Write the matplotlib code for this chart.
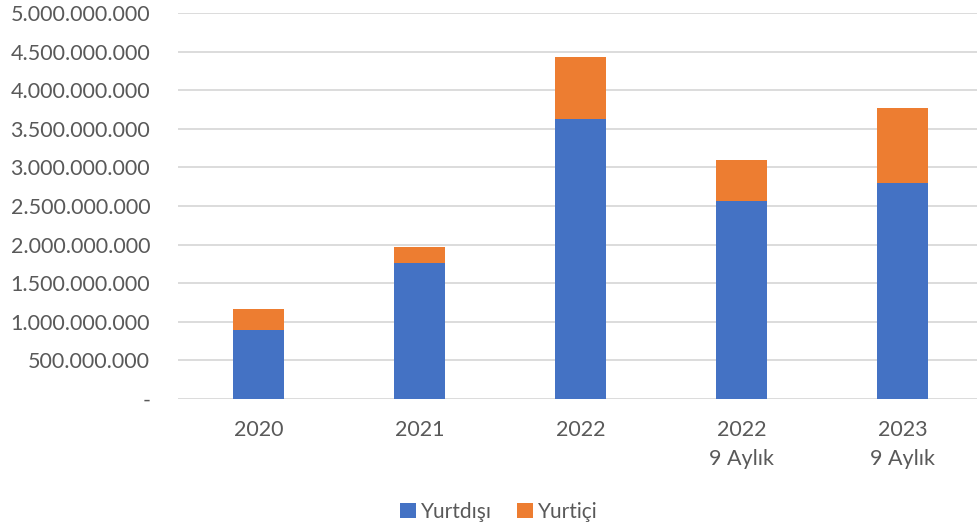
import matplotlib
matplotlib.use("Agg")
import matplotlib.pyplot as plt
from matplotlib.ticker import FuncFormatter

# values
categories = ["2020", "2021", "2022", "2022\n9 Aylık", "2023\n9 Aylık"]
yurtdisi = [893e6, 1759e6, 3622e6, 2570e6, 2803e6]
yurtici = [276e6, 216e6, 811e6, 530e6, 967e6]

blue = "#4472C4"
orange = "#ED7D31"
grey = "#595959"

plt.rcParams['font.family'] = ['Lato', 'DejaVu Sans']

fig = plt.figure(figsize=(9.78, 5.29), dpi=100)
ax = fig.add_axes([178/978, 130/529, 805/978, 386/529])

x = range(len(categories))
ax.bar(x, yurtdisi, width=0.32, color=blue, label="Yurtdışı", zorder=3)
ax.bar(x, yurtici, width=0.32, bottom=yurtdisi, color=orange, label="Yurtiçi", zorder=3)

def fmt(v, pos):
    if v == 0:
        return "-"
    return f"{int(v):,}".replace(",", ".")

ax.set_ylim(0, 5e9)
ax.set_xlim(-0.5, 4.5)
ax.set_yticks([i * 5e8 for i in range(11)])
ax.yaxis.set_major_formatter(FuncFormatter(fmt))
ax.set_xticks(list(x))
ax.set_xticklabels(categories, linespacing=1.55)
ax.grid(axis="y", color="#d9d9d9", linewidth=1.3, zorder=0)
for s in ax.spines.values():
    s.set_visible(False)
ax.tick_params(axis="y", length=0, labelsize=15.5, colors=grey, pad=20)
ax.tick_params(axis="x", length=0, labelsize=15.5, colors=grey, pad=15)

fig.legend(loc="center", bbox_to_anchor=(0.51, 0.032), ncol=2, frameon=False,
           fontsize=15, handlelength=0.75, handleheight=0.75, handletextpad=0.25,
           columnspacing=1.2, labelcolor=grey)

fig.savefig("out.png", dpi=100)
